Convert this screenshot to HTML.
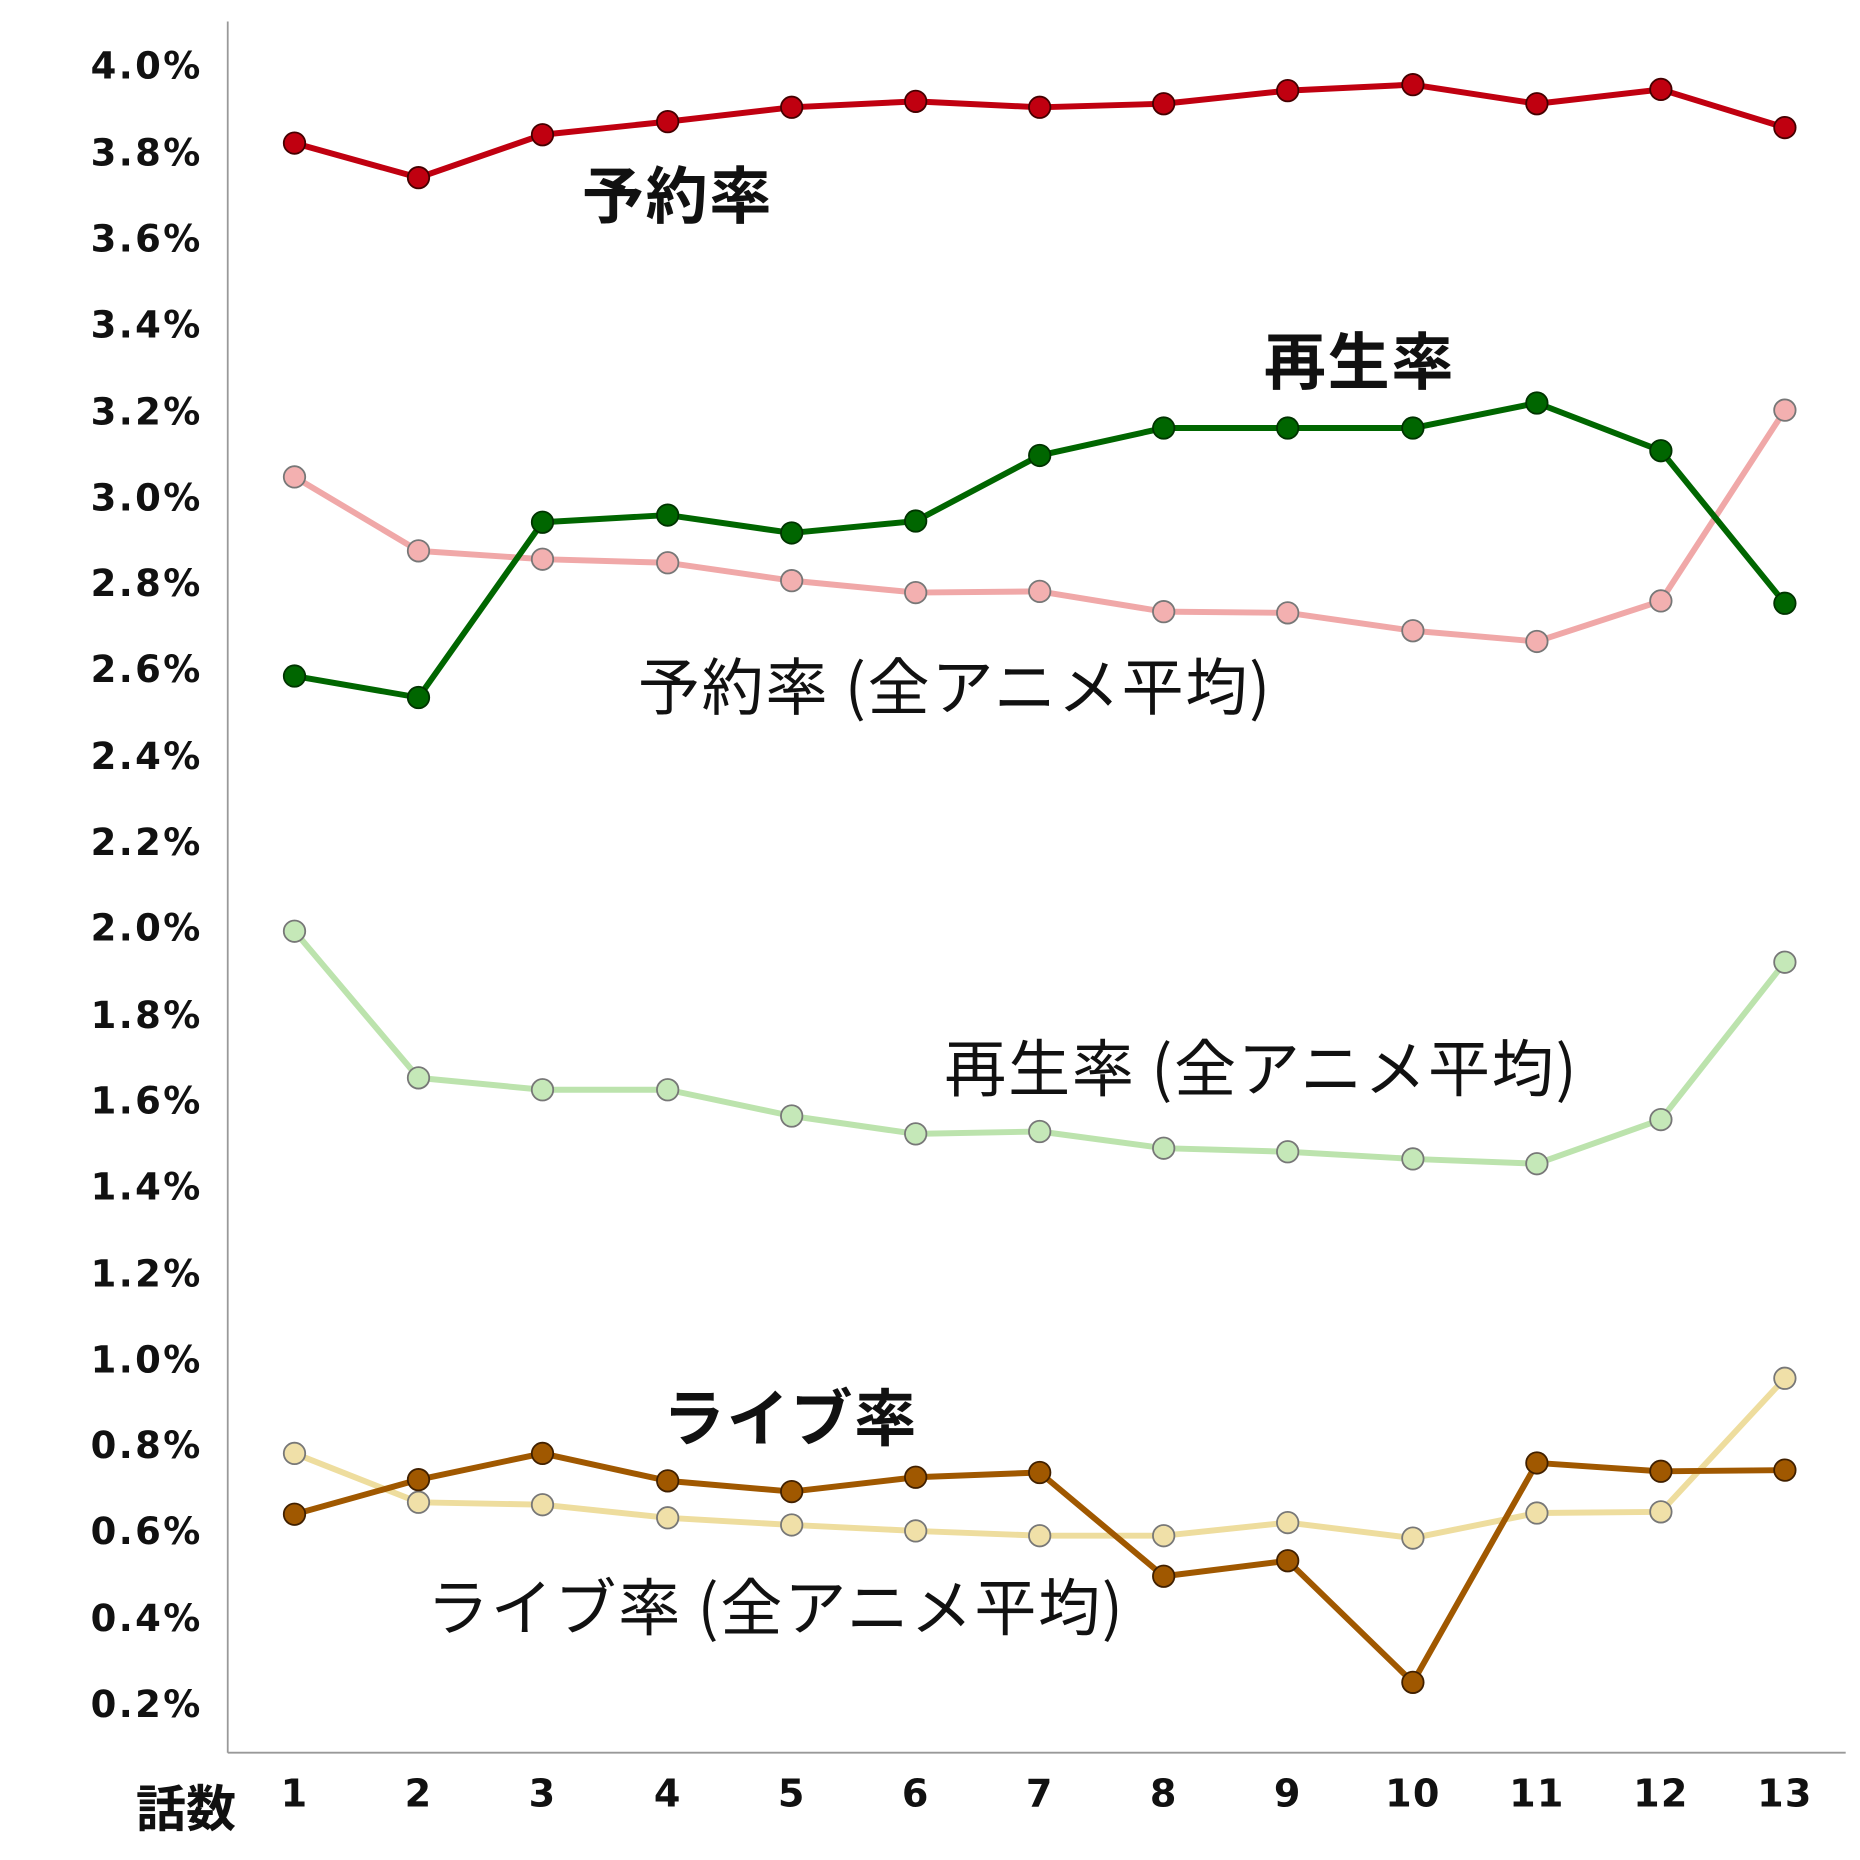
<!DOCTYPE html>
<html><head><meta charset="utf-8"><style>html,body{margin:0;padding:0;background:#fff}svg{display:block}</style></head>
<body>
<svg width="1860" height="1860" viewBox="0 0 1560 1560" xmlns="http://www.w3.org/2000/svg">
<rect width="1560" height="1560" fill="#fff"/>
<g stroke="#999" stroke-width="1.5">
<line x1="191" y1="18" x2="191" y2="1470"/>
<line x1="191" y1="1470" x2="1548" y2="1470"/>
</g>
<g font-family="'DejaVu Sans','Liberation Sans',sans-serif" font-weight="bold" font-size="31" letter-spacing="2" fill="#111" text-anchor="end">
<text x="170" y="66">4.0%</text><text x="170" y="139">3.8%</text><text x="170" y="211">3.6%</text><text x="170" y="283">3.4%</text><text x="170" y="356">3.2%</text><text x="170" y="428">3.0%</text><text x="170" y="500">2.8%</text><text x="170" y="572">2.6%</text><text x="170" y="645">2.4%</text><text x="170" y="717">2.2%</text><text x="170" y="789">2.0%</text><text x="170" y="862">1.8%</text><text x="170" y="934">1.6%</text><text x="170" y="1006">1.4%</text><text x="170" y="1079">1.2%</text><text x="170" y="1151">1.0%</text><text x="170" y="1223">0.8%</text><text x="170" y="1295">0.6%</text><text x="170" y="1368">0.4%</text><text x="170" y="1440">0.2%</text>
</g>
<g font-family="'DejaVu Sans','Liberation Sans',sans-serif" font-weight="bold" font-size="32" letter-spacing="1" fill="#111" text-anchor="middle">
<text x="247" y="1515">1</text><text x="351" y="1515">2</text><text x="455" y="1515">3</text><text x="560" y="1515">4</text><text x="664" y="1515">5</text><text x="768" y="1515">6</text><text x="872" y="1515">7</text><text x="976" y="1515">8</text><text x="1080" y="1515">9</text><text x="1185" y="1515">10</text><text x="1289" y="1515">11</text><text x="1393" y="1515">12</text><text x="1497" y="1515">13</text>
</g>
<text x="114" y="1532" font-family="'Noto Sans CJK JP',sans-serif" font-weight="bold" font-size="42" fill="#111">話数</text>
<g fill="none" stroke-width="5" stroke-linejoin="round">
<polyline stroke="#f0a8a8" points="247,400 351,462 455,469 560,472 664,487 768,497 872,496 976,513 1080,514 1185,529 1289,538 1393,504 1497,344"/>
<polyline stroke="#bce3ad" points="247,781 351,904 455,914 560,914 664,936 768,951 872,949 976,963 1080,966 1185,972 1289,976 1393,939 1497,807"/>
<polyline stroke="#eedd9e" points="247,1219 351,1260 455,1262 560,1273 664,1279 768,1284 872,1288 976,1288 1080,1277 1185,1290 1289,1269 1393,1268 1497,1156"/>
<polyline stroke="#c00010" points="247,120 351,149 455,113 560,102 664,90 768,85 872,90 976,87 1080,76 1185,71 1289,87 1393,75 1497,107"/>
<polyline stroke="#006600" points="247,567 351,585 455,438 560,432 664,447 768,437 872,382 976,359 1080,359 1185,359 1289,338 1393,378 1497,506"/>
<polyline stroke="#a05800" points="247,1270 351,1241 455,1219 560,1242 664,1251 768,1239 872,1235 976,1322 1080,1309 1185,1411 1289,1227 1393,1234 1497,1233"/>
</g>
<g stroke-width="1.5" stroke="#777">
<g fill="#f3b0b0"><circle cx="247" cy="400" r="9"/><circle cx="351" cy="462" r="9"/><circle cx="455" cy="469" r="9"/><circle cx="560" cy="472" r="9"/><circle cx="664" cy="487" r="9"/><circle cx="768" cy="497" r="9"/><circle cx="872" cy="496" r="9"/><circle cx="976" cy="513" r="9"/><circle cx="1080" cy="514" r="9"/><circle cx="1185" cy="529" r="9"/><circle cx="1289" cy="538" r="9"/><circle cx="1393" cy="504" r="9"/><circle cx="1497" cy="344" r="9"/></g>
<g fill="#c5e8b8"><circle cx="247" cy="781" r="9"/><circle cx="351" cy="904" r="9"/><circle cx="455" cy="914" r="9"/><circle cx="560" cy="914" r="9"/><circle cx="664" cy="936" r="9"/><circle cx="768" cy="951" r="9"/><circle cx="872" cy="949" r="9"/><circle cx="976" cy="963" r="9"/><circle cx="1080" cy="966" r="9"/><circle cx="1185" cy="972" r="9"/><circle cx="1289" cy="976" r="9"/><circle cx="1393" cy="939" r="9"/><circle cx="1497" cy="807" r="9"/></g>
<g fill="#f0e0a8"><circle cx="247" cy="1219" r="9"/><circle cx="351" cy="1260" r="9"/><circle cx="455" cy="1262" r="9"/><circle cx="560" cy="1273" r="9"/><circle cx="664" cy="1279" r="9"/><circle cx="768" cy="1284" r="9"/><circle cx="872" cy="1288" r="9"/><circle cx="976" cy="1288" r="9"/><circle cx="1080" cy="1277" r="9"/><circle cx="1185" cy="1290" r="9"/><circle cx="1289" cy="1269" r="9"/><circle cx="1393" cy="1268" r="9"/><circle cx="1497" cy="1156" r="9"/></g>
</g>
<g stroke-width="1.5" stroke="#400">
<g fill="#c00010"><circle cx="247" cy="120" r="9"/><circle cx="351" cy="149" r="9"/><circle cx="455" cy="113" r="9"/><circle cx="560" cy="102" r="9"/><circle cx="664" cy="90" r="9"/><circle cx="768" cy="85" r="9"/><circle cx="872" cy="90" r="9"/><circle cx="976" cy="87" r="9"/><circle cx="1080" cy="76" r="9"/><circle cx="1185" cy="71" r="9"/><circle cx="1289" cy="87" r="9"/><circle cx="1393" cy="75" r="9"/><circle cx="1497" cy="107" r="9"/></g>
<g fill="#006600" stroke="#030"><circle cx="247" cy="567" r="9"/><circle cx="351" cy="585" r="9"/><circle cx="455" cy="438" r="9"/><circle cx="560" cy="432" r="9"/><circle cx="664" cy="447" r="9"/><circle cx="768" cy="437" r="9"/><circle cx="872" cy="382" r="9"/><circle cx="976" cy="359" r="9"/><circle cx="1080" cy="359" r="9"/><circle cx="1185" cy="359" r="9"/><circle cx="1289" cy="338" r="9"/><circle cx="1393" cy="378" r="9"/><circle cx="1497" cy="506" r="9"/></g>
<g fill="#a05800" stroke="#402000"><circle cx="247" cy="1270" r="9"/><circle cx="351" cy="1241" r="9"/><circle cx="455" cy="1219" r="9"/><circle cx="560" cy="1242" r="9"/><circle cx="664" cy="1251" r="9"/><circle cx="768" cy="1239" r="9"/><circle cx="872" cy="1235" r="9"/><circle cx="976" cy="1322" r="9"/><circle cx="1080" cy="1309" r="9"/><circle cx="1185" cy="1411" r="9"/><circle cx="1289" cy="1227" r="9"/><circle cx="1393" cy="1234" r="9"/><circle cx="1497" cy="1233" r="9"/></g>
</g>
<g font-family="'Noto Sans CJK JP',sans-serif" fill="#111">
<text x="488" y="183" font-size="52" font-weight="bold" letter-spacing="1.5">予約率</text>
<text x="1060" y="322" font-size="52" font-weight="bold" letter-spacing="1.5">再生率</text>
<text x="556" y="1208" font-size="52" font-weight="bold" letter-spacing="1.5">ライブ率</text>
<text x="535" y="595" font-size="52" letter-spacing="1.5">予約率 (全アニメ平均)</text>
<text x="792" y="915" font-size="52" letter-spacing="1.5">再生率 (全アニメ平均)</text>
<text x="358" y="1367" font-size="52" letter-spacing="1.5">ライブ率 (全アニメ平均)</text>
</g>
</svg>
</body></html>
